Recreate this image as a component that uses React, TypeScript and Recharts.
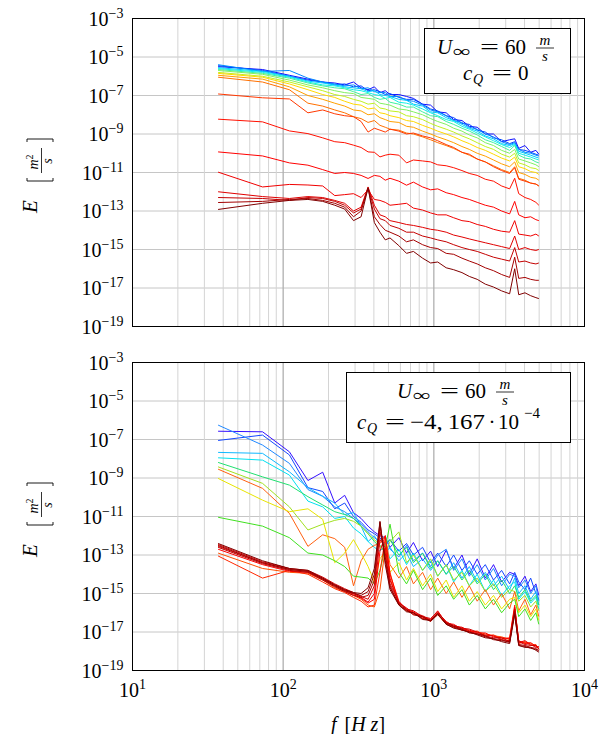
import React from "react";
import { LineChart, Line, XAxis, YAxis, CartesianGrid, ReferenceLine } from "recharts";

const FONT = "'Liberation Serif', 'DejaVu Serif', serif";

// frequency bins [Hz] (multiples of ~36.6 Hz, thinned out at high f)
const freqs = [37, 73, 110, 146, 183, 220, 256, 293, 329, 366, 403, 439, 476, 512, 586, 659, 732, 842, 952, 1061, 1208, 1354, 1537, 1720, 1940, 2196, 2489, 2818, 3185, 3441, 3660, 4026, 4392, 4758, 4977];

// ---- top panel, cQ = 0 : log10(E) per spectrum, blue -> dark red ----
const t00 = [-5.5, -5.65, -5.95, -6.15, -6.3, -6.35, -6.45, -6.3, -6.6, -6.7, -6.55, -6.85, -6.75, -6.95, -6.95, -7.05, -7.15, -7.45, -7.5, -7.85, -7.9, -8.25, -8.3, -8.6, -8.65, -9.0, -9.0, -9.4, -9.3, -9.25, -9.75, -9.6, -9.95, -9.85, -10.05];
const t01 = [-5.45, -5.7, -6.0, -6.2, -6.3, -6.45, -6.4, -6.55, -6.5, -6.75, -6.7, -6.8, -6.95, -6.9, -7.1, -7.2, -7.2, -7.45, -7.7, -7.8, -8.05, -8.15, -8.45, -8.5, -8.8, -8.9, -9.2, -9.3, -9.5, -9.4, -9.8, -9.85, -9.95, -10.05, -10.1];
const t02 = [-5.4, -5.75, -5.7, -6.1, -6.3, -6.4, -6.5, -6.45, -6.65, -6.6, -6.8, -6.85, -6.85, -7.05, -7.05, -7.25, -7.3, -7.5, -7.75, -7.85, -8.05, -8.3, -8.4, -8.65, -8.75, -9.0, -9.15, -9.4, -9.55, -9.45, -9.8, -9.95, -10.0, -10.1, -10.15];
const t03 = [-5.55, -5.75, -6.0, -6.25, -6.35, -6.45, -6.55, -6.6, -6.65, -6.8, -6.75, -6.95, -7.0, -7.05, -7.2, -7.25, -7.45, -7.55, -7.85, -7.9, -8.15, -8.3, -8.5, -8.7, -8.85, -9.1, -9.25, -9.5, -9.6, -9.5, -9.9, -10.0, -10.1, -10.2, -10.25];
const t04 = [-5.6, -5.8, -6.05, -6.3, -6.45, -6.5, -6.6, -6.7, -6.75, -6.85, -6.95, -7.0, -7.15, -7.1, -7.35, -7.4, -7.5, -7.7, -7.9, -8.05, -8.25, -8.35, -8.6, -8.75, -8.95, -9.15, -9.35, -9.55, -9.7, -9.55, -10.0, -10.1, -10.2, -10.3, -10.35];
const t05 = [-5.65, -5.85, -6.1, -6.35, -6.5, -6.6, -6.65, -6.8, -6.95, -6.9, -7.1, -7.2, -7.15, -7.35, -7.45, -7.6, -7.6, -7.85, -8.05, -8.1, -8.35, -8.5, -8.7, -8.85, -9.05, -9.3, -9.45, -9.65, -9.85, -9.6, -10.1, -10.25, -10.3, -10.45, -10.5];
const t06 = [-5.7, -5.9, -6.2, -6.45, -6.6, -6.75, -6.85, -6.9, -7.1, -7.15, -7.2, -7.4, -7.45, -7.5, -7.7, -7.75, -7.85, -8.0, -8.2, -8.35, -8.5, -8.7, -8.85, -9.05, -9.2, -9.45, -9.6, -9.85, -10.0, -9.8, -10.3, -10.4, -10.5, -10.6, -10.7];
const t07 = [-5.8, -6.0, -6.3, -6.55, -6.75, -6.95, -7.05, -7.2, -7.3, -7.45, -7.4, -7.65, -7.7, -7.8, -7.85, -8.05, -8.1, -8.25, -8.45, -8.6, -8.75, -8.9, -9.1, -9.25, -9.45, -9.65, -9.8, -10.05, -10.2, -10.0, -10.5, -10.6, -10.75, -10.8, -10.9];
const t08 = [-5.85, -6.05, -6.4, -6.7, -6.95, -7.1, -7.3, -7.45, -7.5, -7.7, -7.65, -7.9, -7.95, -8.05, -8.15, -8.3, -8.35, -8.55, -8.7, -8.85, -9.0, -9.15, -9.35, -9.5, -9.7, -9.85, -10.05, -10.25, -10.4, -10.2, -10.7, -10.8, -10.95, -11.0, -11.1];
const t09 = [-5.95, -6.15, -6.55, -7.0, -7.2, -7.4, -7.55, -7.75, -7.8, -8.0, -7.95, -8.15, -8.25, -8.35, -8.4, -8.6, -8.65, -8.85, -9.0, -9.15, -9.3, -9.45, -9.65, -9.8, -10.0, -10.15, -10.35, -10.55, -10.7, -10.45, -11.0, -11.1, -11.25, -11.3, -11.4];
const t10 = [-6.05, -6.3, -6.7, -7.4, -7.55, -7.75, -7.9, -8.1, -8.2, -8.4, -8.3, -8.55, -8.65, -8.75, -8.8, -8.95, -9.0, -9.15, -9.3, -9.45, -9.6, -9.75, -9.95, -10.1, -10.3, -10.45, -10.65, -10.85, -11.0, -10.7, -11.3, -11.4, -11.55, -11.6, -11.7];
const t11 = [-6.92, -7.12, -7.18, -7.9, -7.75, -7.95, -8.05, -8.1, -8.35, -8.9, -8.7, -8.8, -8.9, -8.75, -8.85, -9.0, -8.95, -9.1, -9.2, -9.35, -9.55, -9.7, -9.95, -10.05, -10.3, -10.45, -10.7, -10.9, -11.05, -10.75, -11.35, -11.45, -11.55, -11.6, -11.7];
const t12 = [-8.23, -8.37, -8.84, -8.98, -9.2, -9.4, -9.45, -9.58, -9.7, -9.93, -9.95, -10.19, -10.1, -10.05, -10.1, -10.5, -10.35, -10.4, -10.45, -10.6, -10.65, -10.75, -10.9, -11.05, -11.15, -11.35, -11.45, -11.7, -11.85, -11.3, -12.1, -12.3, -12.4, -12.55, -12.7];
const t13 = [-9.93, -10.14, -10.5, -10.62, -10.85, -11.05, -11.0, -11.05, -11.15, -11.31, -11.15, -11.2, -11.4, -11.3, -11.45, -11.66, -11.5, -11.75, -11.9, -11.85, -12.05, -12.15, -12.3, -12.4, -12.55, -12.7, -12.8, -13.0, -13.15, -12.5, -13.2, -13.35, -13.3, -13.45, -13.5];
const t14 = [-10.98, -11.75, -11.62, -11.65, -11.7, -12.2, -12.15, -12.1, -12.3, -11.9, -12.4, -12.45, -12.55, -12.7, -12.65, -12.6, -12.85, -12.95, -13.1, -13.2, -13.2, -13.35, -13.5, -13.55, -13.7, -13.8, -13.95, -14.05, -14.1, -13.5, -14.2, -14.25, -14.3, -14.2, -14.3];
const t15 = [-12.0, -12.25, -12.35, -12.25, -12.3, -12.45, -12.6, -13.0, -12.8, -11.75, -12.7, -13.2, -13.3, -13.5, -13.6, -13.7, -13.75, -13.85, -13.95, -14.0, -14.1, -14.25, -14.35, -14.45, -14.55, -14.65, -14.75, -14.85, -14.95, -14.3, -15.0, -14.9, -15.0, -15.05, -15.0];
const t16 = [-12.3, -12.35, -12.45, -12.3, -12.35, -12.5, -12.7, -13.1, -12.9, -11.8, -12.9, -13.4, -13.5, -13.75, -13.9, -14.1, -14.1, -14.3, -14.4, -14.5, -14.6, -14.75, -14.9, -15.0, -15.1, -15.25, -15.4, -15.5, -15.6, -14.9, -15.65, -15.6, -15.7, -15.75, -15.7];
const t17 = [-12.56, -12.5, -12.4, -12.35, -12.45, -12.6, -12.8, -13.3, -13.0, -11.8, -13.3, -13.7, -14.0, -14.1, -14.3, -14.6, -14.5, -14.75, -14.9, -14.95, -15.2, -15.25, -15.45, -15.6, -15.75, -15.95, -16.1, -16.3, -16.45, -15.4, -16.5, -16.45, -16.55, -16.6, -16.6];
const t18 = [-12.92, -12.6, -12.45, -12.4, -12.5, -12.7, -12.9, -13.5, -13.3, -11.8, -13.6, -14.1, -14.5, -14.4, -14.8, -15.2, -15.1, -15.45, -15.7, -15.65, -15.95, -16.05, -16.2, -16.4, -16.55, -16.8, -16.95, -17.15, -17.3, -16.0, -17.35, -17.25, -17.4, -17.5, -17.55];
const topSeries = [t00, t01, t02, t03, t04, t05, t06, t07, t08, t09, t10, t11, t12, t13, t14, t15, t16, t17, t18];
const topColors = ["#1010ff", "#0048ff", "#0088ff", "#00c8ff", "#10f0e8", "#40f0a0", "#80f060", "#c0f020", "#ffd800", "#ffa000", "#ff7000", "#ff3800", "#ff1000", "#ff0000", "#f00000", "#e00000", "#c40000", "#a40000", "#800000"];

// ---- bottom panel, cQ = -4,167e-4 ----
const b00 = [-6.57, -6.6, -7.64, -9.13, -8.7, -10.3, -9.9, -10.8, -11.1, -11.5, -11.8, -12.0, -12.1, -12.6, -12.1, -12.9, -12.35, -13.3, -12.8, -13.6, -12.75, -13.7, -13.0, -14.0, -13.2, -14.2, -13.5, -14.4, -13.9, -14.0, -14.6, -14.1, -14.9, -14.5, -15.1];
const b01 = [-7.05, -6.77, -7.8, -9.5, -9.7, -10.6, -10.3, -11.0, -11.3, -11.7, -11.9, -12.1, -12.5, -12.2, -12.8, -12.4, -13.0, -12.6, -13.4, -12.9, -13.6, -13.0, -13.8, -13.3, -14.0, -13.5, -14.3, -13.8, -14.5, -13.9, -14.4, -14.8, -14.2, -15.0, -15.3];
const b02 = [-6.25, -7.29, -8.24, -9.6, -9.95, -10.5, -10.75, -11.1, -11.4, -11.8, -12.1, -12.3, -12.0, -12.7, -13.1, -12.5, -13.3, -12.9, -13.6, -13.0, -12.7, -13.8, -13.2, -14.1, -13.5, -14.3, -13.7, -14.6, -14.0, -14.1, -14.7, -14.3, -15.0, -14.6, -15.4];
const b03 = [-7.67, -7.72, -8.68, -9.5, -9.95, -10.3, -10.9, -10.8, -11.5, -12.3, -12.0, -12.5, -12.9, -12.6, -13.3, -12.9, -13.6, -13.2, -13.8, -13.3, -14.0, -13.4, -14.2, -13.6, -14.4, -13.9, -14.6, -14.1, -14.8, -14.2, -15.0, -14.6, -15.3, -14.9, -15.6];
const b04 = [-7.95, -8.07, -8.85, -10.2, -10.5, -11.1, -11.0, -11.6, -11.9, -12.3, -12.6, -12.8, -12.5, -13.2, -12.7, -13.5, -12.9, -13.8, -13.3, -14.1, -13.5, -14.4, -13.8, -14.6, -14.0, -14.9, -14.3, -15.1, -14.6, -14.4, -15.3, -14.9, -15.5, -15.2, -15.8];
const b05 = [-8.19, -8.94, -9.37, -9.97, -10.4, -10.75, -10.9, -11.1, -11.5, -11.9, -12.3, -12.6, -12.4, -12.2, -13.0, -12.6, -13.4, -12.9, -13.7, -13.3, -14.0, -13.6, -14.3, -13.8, -14.5, -14.0, -14.8, -14.3, -15.0, -14.6, -15.2, -14.8, -15.4, -15.1, -15.6];
const b06 = [-8.42, -9.28, -10.5, -11.7, -11.4, -11.2, -11.1, -11.25, -11.5, -11.9, -12.2, -12.5, -12.9, -12.3, -11.8, -13.4, -13.0, -13.8, -13.2, -14.1, -13.5, -14.3, -13.9, -14.6, -14.2, -14.9, -14.5, -15.2, -14.8, -14.9, -15.4, -15.1, -15.7, -15.4, -15.9];
const b07 = [-8.54, -9.54, -10.84, -12.55, -11.95, -12.15, -12.6, -14.6, -13.3, -12.7, -12.5, -12.4, -12.0, -13.5, -14.2, -13.6, -14.5, -13.9, -14.8, -14.2, -15.0, -14.4, -15.2, -14.6, -15.4, -14.8, -15.6, -15.0, -15.8, -14.9, -15.9, -15.3, -16.1, -15.6, -16.2];
const b08 = [-9.02, -10.15, -10.75, -10.6, -11.15, -13.4, -12.9, -12.2, -12.9, -13.6, -14.4, -13.2, -12.8, -13.9, -13.4, -14.3, -13.7, -14.6, -14.0, -14.9, -14.3, -15.2, -14.6, -15.4, -14.9, -15.6, -15.1, -15.8, -15.3, -15.2, -16.0, -15.6, -16.2, -15.8, -16.4];
const b09 = [-11.04, -11.5, -12.1, -12.9, -13.0, -13.3, -13.6, -14.1, -14.15, -14.2, -14.5, -13.8, -12.6, -11.4, -13.9, -14.5, -13.8, -14.8, -14.2, -15.1, -14.6, -15.3, -14.8, -15.6, -15.1, -15.8, -15.3, -16.0, -15.5, -15.3, -16.2, -15.8, -16.4, -16.0, -16.6];
const b10 = [-12.9, -13.7, -13.9, -13.95, -14.3, -14.7, -14.9, -15.1, -15.3, -15.6, -15.7, -14.8, -12.6, -13.9, -15.6, -15.9, -16.0, -16.3, -16.4, -16.1, -16.6, -16.7, -16.9, -16.95, -17.0, -17.1, -17.2, -17.25, -17.4, -15.8, -17.5, -17.55, -17.6, -17.7, -17.8];
const b11 = [-13.05, -14.2, -13.8, -14.0, -14.4, -14.75, -14.95, -15.2, -15.4, -15.7, -15.6, -13.9, -12.1, -14.2, -15.5, -15.8, -16.1, -16.2, -16.45, -16.0, -16.5, -16.75, -16.8, -17.0, -16.95, -17.2, -17.15, -17.35, -17.3, -15.6, -17.6, -17.5, -17.7, -17.65, -17.9];
const b12 = [-12.7, -13.5, -13.85, -13.9, -14.25, -14.6, -14.85, -15.05, -15.25, -15.5, -15.3, -12.8, -12.0, -14.0, -15.4, -15.85, -15.95, -16.25, -16.35, -15.9, -16.55, -16.6, -16.85, -16.9, -17.05, -17.05, -17.25, -17.3, -17.35, -15.7, -17.45, -17.6, -17.55, -17.75, -17.85];
const b13 = [-12.55, -13.4, -13.75, -13.85, -14.2, -14.55, -14.8, -15.0, -15.2, -15.45, -15.0, -12.2, -12.6, -14.3, -15.5, -15.75, -16.05, -16.15, -16.4, -16.0, -16.45, -16.7, -16.75, -16.95, -17.1, -17.15, -17.2, -17.4, -17.45, -15.9, -17.55, -17.45, -17.65, -17.8, -17.75];
const b14 = [-12.45, -13.35, -13.7, -13.8, -14.15, -14.5, -14.75, -14.95, -15.15, -15.3, -14.6, -11.8, -12.9, -14.5, -15.45, -15.8, -15.9, -16.2, -16.3, -15.95, -16.5, -16.65, -16.8, -16.85, -17.0, -17.2, -17.3, -17.3, -17.5, -15.8, -17.5, -17.65, -17.7, -17.7, -17.9];
const b15 = [-12.6, -13.45, -13.8, -13.9, -14.3, -14.65, -14.9, -15.1, -15.2, -15.1, -14.3, -11.5, -13.1, -14.6, -15.6, -15.9, -16.0, -16.3, -16.4, -16.05, -16.6, -16.75, -16.9, -17.0, -17.1, -17.25, -17.35, -17.4, -17.55, -15.9, -17.65, -17.7, -17.8, -17.85, -18.0];
const b16 = [-12.5, -13.4, -13.75, -13.85, -14.25, -14.6, -14.85, -15.0, -15.1, -14.9, -14.0, -11.3, -13.3, -14.7, -15.55, -15.85, -16.1, -16.2, -16.45, -16.1, -16.55, -16.7, -16.85, -17.05, -17.1, -17.2, -17.4, -17.45, -17.5, -16.0, -17.7, -17.75, -17.85, -17.9, -17.95];
const b17 = [-12.4, -13.3, -13.7, -13.8, -14.2, -14.55, -14.8, -14.95, -15.0, -14.7, -13.7, -11.25, -13.5, -14.8, -15.6, -15.95, -16.0, -16.35, -16.4, -16.05, -16.6, -16.8, -16.9, -17.0, -17.15, -17.3, -17.35, -17.5, -17.6, -16.1, -17.7, -17.8, -17.8, -17.95, -18.05];
const bottomSeries = [b00, b01, b02, b03, b04, b05, b06, b07, b08, b09, b10, b11, b12, b13, b14, b15, b16, b17];
const bottomColors = ["#3410ff", "#1448ff", "#2088ff", "#10b8ff", "#00e0f0", "#20e070", "#a0e020", "#ff6010", "#e8e400", "#40e020", "#ff5000", "#ff2800", "#ff0000", "#e80000", "#d00000", "#b40000", "#9a0000", "#800000"];

const xTicks = [10, 100, 1000, 10000];
const yTicks = [1e-19, 1e-17, 1e-15, 1e-13, 1e-11, 1e-9, 1e-7, 1e-5, 1e-3];
const xMinor = [20, 30, 40, 50, 60, 70, 80, 90, 200, 300, 400, 500, 600, 700, 800, 900, 2000, 3000, 4000, 5000, 6000, 7000, 8000, 9000];
const xMajor = [100, 1000];

const toRows = (series: number[][]) =>
  freqs.map((f, i) => {
    const row: Record<string, number> = { f };
    series.forEach((s, j) => {
      row["s" + j] = Math.pow(10, s[i]);
    });
    return row;
  });

const topRows = toRows(topSeries);
const bottomRows = toRows(bottomSeries);

const PowTick = (props: any) => {
  const { x, y, payload, anchor, dy } = props;
  const e = Math.round(Math.log10(payload.value));
  const sup = e < 0 ? "\u2212" + Math.abs(e) : String(e);
  return (
    <text x={x} y={y + dy} textAnchor={anchor} style={{ fontFamily: FONT }} fontSize={20} fill="#000">
      <tspan>10</tspan>
      <tspan dy={-8} fontSize={14}>{sup}</tspan>
    </text>
  );
};

type PanelProps = {
  rows: Record<string, number>[];
  colors: string[];
  height: number;
  top: number;
  showX: boolean;
};

const Panel = ({ rows, colors, height, top, showX }: PanelProps) => (
  <LineChart
    width={607}
    height={height}
    data={rows}
    margin={{ top, right: 22.5, bottom: showX ? 0 : 13.5, left: 0 }}
  >
    <CartesianGrid vertical={false} stroke="#c6c6c6" />
    {xMinor.map((v) => (
      <ReferenceLine key={v} x={v} stroke="#d4d4d4" strokeWidth={1} />
    ))}
    {xMajor.map((v) => (
      <ReferenceLine key={v} x={v} stroke="#b0b0b0" strokeWidth={1.3} />
    ))}
    <XAxis
      dataKey="f"
      type="number"
      scale="log"
      domain={[10, 10000]}
      allowDataOverflow
      ticks={xTicks}
      interval={0}
      hide={!showX}
      height={63.5}
      axisLine={false}
      tickLine={false}
      tickSize={0}
      tickMargin={0}
      tick={(p: any) => <PowTick {...p} anchor="middle" dy={26} />}
    />
    <YAxis
      type="number"
      scale="log"
      domain={[1e-19, 1e-3]}
      allowDataOverflow
      ticks={yTicks}
      interval={0}
      width={132.5}
      axisLine={false}
      tickLine={false}
      tickSize={0}
      tickMargin={9}
      tick={(p: any) => <PowTick {...p} anchor="end" dy={7} />}
    />
    {colors.map((c, j) => (
      <Line
        key={j}
        dataKey={"s" + j}
        stroke={c}
        strokeWidth={1}
        dot={false}
        type="linear"
        isAnimationActive={false}
      />
    ))}
  </LineChart>
);

const YLabel = ({ cx, cy }: { cx: number; cy: number }) => (
  <g transform={`translate(${cx},${cy}) rotate(-90)`} style={{ fontFamily: FONT }} fill="#000">
    <text x={-38} y={0} fontSize={21} fontStyle="italic">E</text>
    <path d="M -3 -10 L -6 -10 L -6 16 L -3 16" fill="none" stroke="#000" strokeWidth={0.9} />
    <text x={13} y={1} fontSize={14} fontStyle="italic" textAnchor="middle">
      m<tspan fontSize={10} dy={-5} fontStyle="normal">2</tspan>
    </text>
    <line x1={2} x2={27} y1={4.5} y2={4.5} stroke="#000" strokeWidth={0.8} />
    <text x={14} y={14.5} fontSize={14} fontStyle="italic" textAnchor="middle">s</text>
    <path d="M 33 -10 L 36 -10 L 36 16 L 33 16" fill="none" stroke="#000" strokeWidth={0.9} />
  </g>
);

// "U∞ = 60 m/s" line of the annotation boxes; x = left edge of U, y = baseline
const SpeedLine = ({ x, y }: { x: number; y: number }) => (
  <g style={{ fontFamily: FONT }} fill="#000">
    <text x={x} y={y} fontSize={21} fontStyle="italic">U</text>
    <text x={x + 16} y={y + 3} fontSize={17} textLength={18} lengthAdjust="spacingAndGlyphs">∞</text>
    <text x={x + 43} y={y} fontSize={22} textLength={19} lengthAdjust="spacingAndGlyphs">=</text>
    <text x={x + 68} y={y} fontSize={21}>60</text>
    <text x={x + 108} y={y - 9} fontSize={15} fontStyle="italic" textAnchor="middle">m</text>
    <line x1={x + 99} x2={x + 117} y1={y - 6} y2={y - 6} stroke="#000" strokeWidth={0.8} />
    <text x={x + 108} y={y + 7} fontSize={15} fontStyle="italic" textAnchor="middle">s</text>
  </g>
);

const Overlay = () => (
  <svg width={607} height={734} style={{ position: "absolute", left: 0, top: 0, pointerEvents: "none" }}>
    <rect x={132.5} y={18.5} width={452} height={308} fill="none" stroke="#000" strokeWidth={1} />
    <rect x={132.5} y={362.5} width={452} height={308} fill="none" stroke="#000" strokeWidth={1} />

    <YLabel cx={37} cy={175} />
    <YLabel cx={37} cy={519} />

    <text x={358} y={731} textAnchor="middle" style={{ fontFamily: FONT }} fontSize={20} fill="#000">
      <tspan fontStyle="italic">f</tspan>
      <tspan dx={8}>[</tspan>
      <tspan fontStyle="italic">H z</tspan>
      <tspan>]</tspan>
    </text>

    {/* annotation box, top panel */}
    <rect x={424.5} y={28.5} width={146} height={65} fill="#fff" stroke="#000" strokeWidth={1} />
    <SpeedLine x={437} y={54} />
    <g style={{ fontFamily: FONT }} fill="#000">
      <text x={463} y={80} fontSize={21} fontStyle="italic">c</text>
      <text x={473} y={84} fontSize={14} fontStyle="italic">Q</text>
      <text x={492} y={80} fontSize={22} textLength={20} lengthAdjust="spacingAndGlyphs">=</text>
      <text x={518} y={80} fontSize={21}>0</text>
    </g>

    {/* annotation box, bottom panel */}
    <rect x={346.5} y={372.5} width={224} height={70} fill="#fff" stroke="#000" strokeWidth={1} />
    <SpeedLine x={397} y={398} />
    <g style={{ fontFamily: FONT }} fill="#000">
      <text x={357} y={429} fontSize={21} fontStyle="italic">c</text>
      <text x={367} y={433} fontSize={14} fontStyle="italic">Q</text>
      <text x={385} y={429} fontSize={22} textLength={20} lengthAdjust="spacingAndGlyphs">=</text>
      <text x={410} y={429} fontSize={21} textLength={75} lengthAdjust="spacingAndGlyphs">{"\u22124,\u2009167"}</text>
      <text x={492} y={429} fontSize={21} textAnchor="middle">·</text>
      <text x={498} y={429} fontSize={21}>10</text>
      <text x={524} y={418} fontSize={15}>{"\u22124"}</text>
    </g>
  </svg>
);

export default function App() {
  return (
    <div style={{ position: "absolute", left: 0, top: 0, width: 607, height: 734, background: "#fff" }}>
      <div style={{ position: "absolute", left: 0, top: 0 }}>
        <Panel rows={topRows} colors={topColors} height={340} top={18.5} showX={false} />
      </div>
      <div style={{ position: "absolute", left: 0, top: 340 }}>
        <Panel rows={bottomRows} colors={bottomColors} height={394} top={22.5} showX={true} />
      </div>
      <Overlay />
    </div>
  );
}
